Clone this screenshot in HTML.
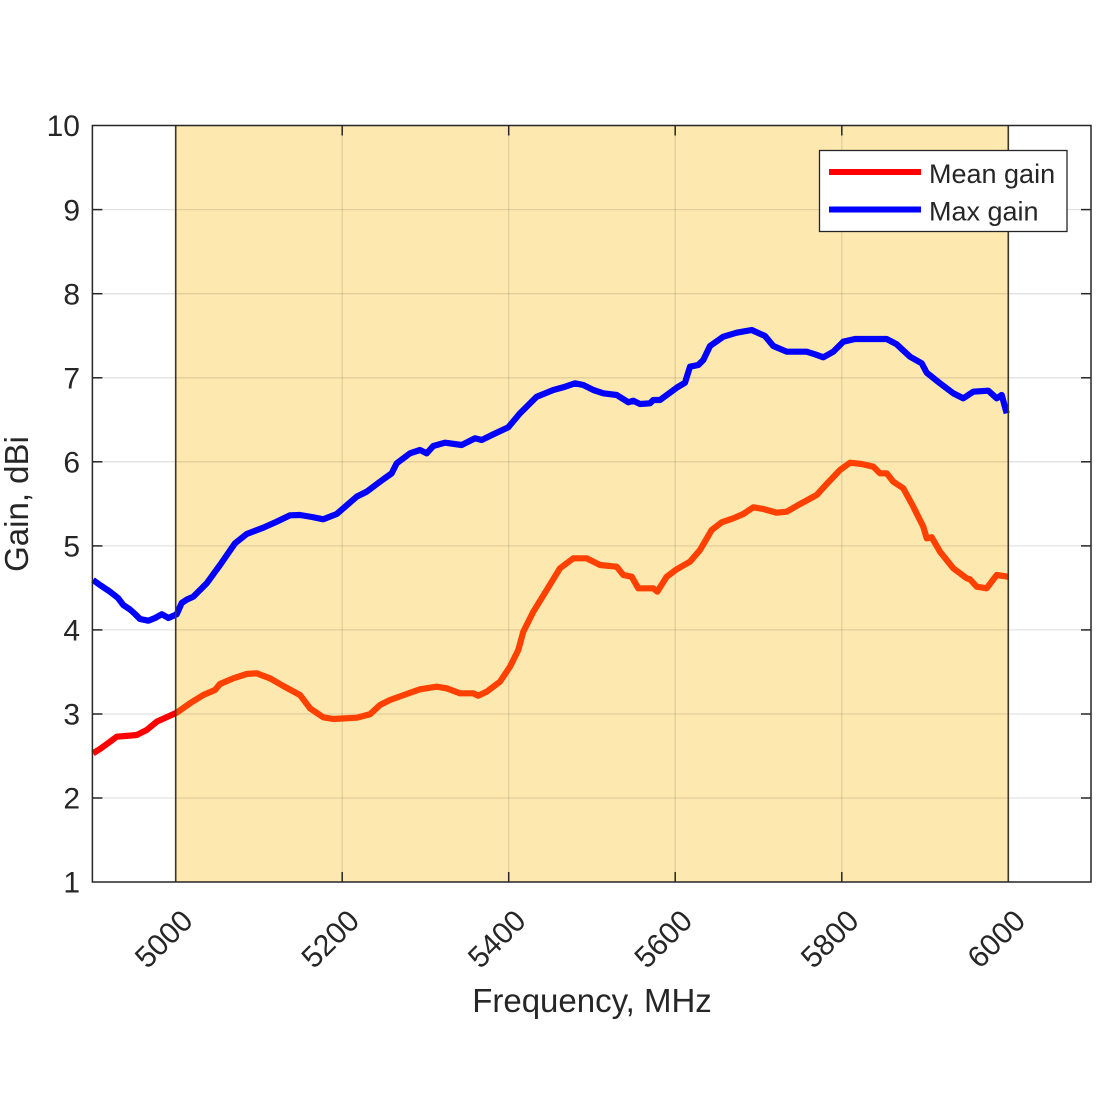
<!DOCTYPE html>
<html><head><meta charset="utf-8"><style>
html,body{margin:0;padding:0;background:#fff;}
svg{display:block;}
text{font-family:"Liberation Sans",Arial,sans-serif;fill:#262626;}
</style></head><body>
<svg width="1100" height="1100" viewBox="0 0 1100 1100" xmlns="http://www.w3.org/2000/svg">
<defs>
<clipPath id="inBand"><rect x="175.7" y="120" width="832.6" height="770"/></clipPath>
<clipPath id="outBand"><rect x="80" y="120" width="95.7" height="770"/></clipPath>
</defs>
<rect x="0" y="0" width="1100" height="1100" fill="#fff"/>
<!-- band -->
<rect x="175.7" y="125.5" width="832.6" height="756.5" fill="#fde8b0"/>
<!-- grid -->
<g stroke="#000" stroke-opacity="0.11" stroke-width="1.3">
<line x1="92.4" x2="1091" y1="209.6" y2="209.6"/>
<line x1="92.4" x2="1091" y1="293.7" y2="293.7"/>
<line x1="92.4" x2="1091" y1="377.8" y2="377.8"/>
<line x1="92.4" x2="1091" y1="461.8" y2="461.8"/>
<line x1="92.4" x2="1091" y1="545.9" y2="545.9"/>
<line x1="92.4" x2="1091" y1="629.9" y2="629.9"/>
<line x1="92.4" x2="1091" y1="714" y2="714"/>
<line x1="92.4" x2="1091" y1="798" y2="798"/>
<line x1="342.2" x2="342.2" y1="125.5" y2="882"/>
<line x1="508.7" x2="508.7" y1="125.5" y2="882"/>
<line x1="675.2" x2="675.2" y1="125.5" y2="882"/>
<line x1="841.8" x2="841.8" y1="125.5" y2="882"/>
</g>
<!-- blue -->
<polyline fill="none" stroke="#0000ff" stroke-width="6.2" stroke-linejoin="round" stroke-linecap="butt" points="93,580 100,585 110,591.7 118,598 123.3,605 130,609.5 135,614 140,619 148.3,620.7 155,618 161.7,614.3 165,616 168.3,618 176.7,614.3 181.7,603 187,599.5 193.3,596.7 206.7,583.3 220,565 235,543.3 246.7,534 263.3,527.7 276.7,521.7 290,515.3 300,515 312,517 323.3,519.3 336.7,514 356.7,496.7 366.7,491.7 380,481.7 391.7,473.3 396.7,463.3 410,453.3 420,450 426.7,453.3 433.3,446 445,442.7 461.7,445 475,438.3 481.7,440 493.3,434.3 508.3,427.3 520,413.3 536.7,396.7 553.3,390 563.3,387.3 575,383.3 583.3,385 593.3,390 603.3,393.3 616.7,395 628.3,402.3 633.3,400.7 640,404 650,403.3 653.3,400 660,400 676.7,387.7 685,382.7 690,366.7 698.3,365 703.3,360 710,346 723.3,336.7 736.7,332.7 751.7,330 765,336 773.3,346 786.7,351.7 806.7,351.7 815,354.3 823.3,357.3 833.3,351.7 843.3,341.7 855,339 873.3,339 886.7,339 896.7,344.3 910,356.7 921.7,363.3 926.7,372.7 940,383.3 953.3,393.3 963.3,398.3 973.3,391.7 988.3,390.7 996.7,398.3 1001.7,395 1006.7,413.3"/>
<!-- red -->
<g fill="none" stroke-width="6.2" stroke-linejoin="round">
<polyline clip-path="url(#outBand)" stroke="#ff0000" points="93,753.3 100,749 110,741.7 116.7,736.7 125,736 136.7,735 146.7,730 156.7,721.7 170,715.7 176.7,712.7 190,703.3"/>
<polyline clip-path="url(#inBand)" stroke="#ff4000" points="170,715.7 176.7,712.7 190,703.3 203.3,695 215,690 220,684 233.3,678.3 246.7,674 256.7,673.3 270,678.3 283.3,686 300,695 310,708.3 323.3,717.3 333.3,719 356.7,717.7 370,714.3 380,705 390,700 406.7,694 420,689.3 436.7,686.7 446.7,688.3 460,693.3 473.3,693.3 478.3,695.7 486.7,691.7 500,681.7 510,666.7 518.3,650 523.3,631.7 533.3,611.7 546.7,590 560,568.3 573.3,558.3 586.7,558.3 600,565 616.7,566.7 623.3,575 631.7,576.7 638.3,588.3 653.3,588.3 657.3,591.7 666.7,576.7 676.7,569.3 690,561.7 700,550 711.7,530 721.7,522.3 733.3,518.3 743.3,514 753.3,507.3 763.3,509 776.7,512.7 786.7,511.7 798.3,505 816.7,495 826.7,484 840,470 850,462.7 861.7,464 873.3,466.7 880,473.3 886.7,473.3 893.3,481.7 903.3,488.3 913.3,506.7 923.3,526.7 926.7,538.3 931.7,537.3 940,551.7 953.3,568.3 966.7,578.3 970,579.3 976.7,586.7 986.7,588.3 996.7,575 1008.3,576.7"/>
</g>
<!-- band edges -->
<g stroke="#3a3626" stroke-width="1.6">
<line x1="175.7" x2="175.7" y1="125.5" y2="882"/>
<line x1="1008.3" x2="1008.3" y1="125.5" y2="882"/>
</g>
<!-- axes box -->
<rect x="92.4" y="125.5" width="998.6" height="756.5" fill="none" stroke="#262626" stroke-width="1.5"/>
<!-- ticks -->
<g stroke="#262626" stroke-width="1.5">
<line x1="92.4" x2="102.4" y1="209.6" y2="209.6"/><line x1="1091" x2="1081" y1="209.6" y2="209.6"/>
<line x1="92.4" x2="102.4" y1="293.7" y2="293.7"/><line x1="1091" x2="1081" y1="293.7" y2="293.7"/>
<line x1="92.4" x2="102.4" y1="377.8" y2="377.8"/><line x1="1091" x2="1081" y1="377.8" y2="377.8"/>
<line x1="92.4" x2="102.4" y1="461.8" y2="461.8"/><line x1="1091" x2="1081" y1="461.8" y2="461.8"/>
<line x1="92.4" x2="102.4" y1="545.9" y2="545.9"/><line x1="1091" x2="1081" y1="545.9" y2="545.9"/>
<line x1="92.4" x2="102.4" y1="629.9" y2="629.9"/><line x1="1091" x2="1081" y1="629.9" y2="629.9"/>
<line x1="92.4" x2="102.4" y1="714" y2="714"/><line x1="1091" x2="1081" y1="714" y2="714"/>
<line x1="92.4" x2="102.4" y1="798" y2="798"/><line x1="1091" x2="1081" y1="798" y2="798"/>
<line x1="342.2" x2="342.2" y1="882" y2="872"/><line x1="342.2" x2="342.2" y1="125.5" y2="135.5"/>
<line x1="508.7" x2="508.7" y1="882" y2="872"/><line x1="508.7" x2="508.7" y1="125.5" y2="135.5"/>
<line x1="675.2" x2="675.2" y1="882" y2="872"/><line x1="675.2" x2="675.2" y1="125.5" y2="135.5"/>
<line x1="841.8" x2="841.8" y1="882" y2="872"/><line x1="841.8" x2="841.8" y1="125.5" y2="135.5"/>
</g>
<!-- y tick labels -->
<g font-size="30" text-anchor="end">
<text x="80" y="136.2">10</text>
<text x="80" y="220.3">9</text>
<text x="80" y="304.4">8</text>
<text x="80" y="388.5">7</text>
<text x="80" y="472.5">6</text>
<text x="80" y="556.6">5</text>
<text x="80" y="640.6">4</text>
<text x="80" y="724.7">3</text>
<text x="80" y="808.7">2</text>
<text x="80" y="892.7">1</text>
</g>
<!-- x tick labels -->
<g font-size="30" text-anchor="end">
<text transform="translate(187,915) rotate(-45)" x="0" y="10.7">5000</text>
<text transform="translate(353.5,915) rotate(-45)" x="0" y="10.7">5200</text>
<text transform="translate(520,915) rotate(-45)" x="0" y="10.7">5400</text>
<text transform="translate(686.5,915) rotate(-45)" x="0" y="10.7">5600</text>
<text transform="translate(853,915) rotate(-45)" x="0" y="10.7">5800</text>
<text transform="translate(1019.5,915) rotate(-45)" x="0" y="10.7">6000</text>
</g>
<!-- axis labels -->
<text x="592" y="1012" font-size="33" text-anchor="middle">Frequency, MHz</text>
<text transform="translate(28,504) rotate(-90)" x="0" y="0" font-size="33" text-anchor="middle">Gain, dBi</text>
<!-- legend -->
<rect x="819.5" y="150.5" width="247.5" height="81" fill="#fff" stroke="#262626" stroke-width="1.3"/>
<line x1="829" x2="921" y1="172" y2="172" stroke="#ff0000" stroke-width="6"/>
<line x1="829" x2="921" y1="209.5" y2="209.5" stroke="#0000ff" stroke-width="6"/>
<g font-size="27">
<text x="929" y="183">Mean gain</text>
<text x="929" y="220.5">Max gain</text>
</g>
</svg>
</body></html>
